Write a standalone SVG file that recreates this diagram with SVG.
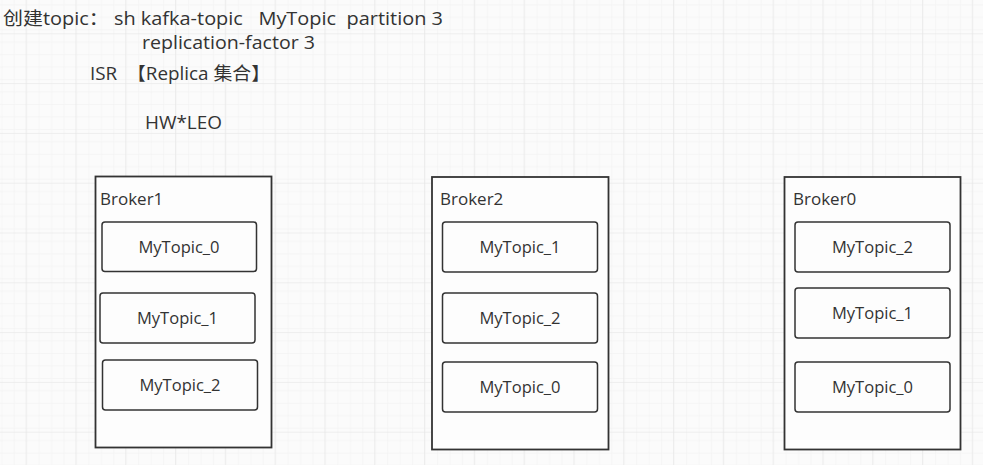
<svg xmlns="http://www.w3.org/2000/svg" width="983" height="465" viewBox="0 0 983 465">
<defs>
<pattern id="minor" x="25.6" y="33.3" width="12.45" height="12.45" patternUnits="userSpaceOnUse">
<path d="M0 0H12.45M0 0V12.45" fill="none" stroke="#efefef" stroke-width="1"/>
</pattern>
<pattern id="major" x="25.6" y="33.3" width="49.8" height="49.8" patternUnits="userSpaceOnUse">
<rect width="49.8" height="49.8" fill="url(#minor)"/>
<path d="M0 0H49.8M0 0V49.8" fill="none" stroke="#e2e2e2" stroke-width="1"/>
</pattern>
</defs>
<style>
text{font-family:"Open Sans","Noto Sans CJK SC",sans-serif;fill:#333}
.t{font-size:18px}
.b{font-size:17px}
.p{font-size:16px;text-anchor:middle}
.broker{fill:#fdfdfd;stroke:#333;stroke-width:1.8}
.part{fill:#fdfdfd;stroke:#333;stroke-width:1.5}
</style>
<rect width="983" height="465" fill="#fbfbfb"/>
<rect width="983" height="465" fill="url(#major)"/>
<g id="notes">
<text class="t" x="3" y="25" textLength="440" lengthAdjust="spacingAndGlyphs" xml:space="preserve">创建topic： sh kafka-topic   MyTopic  partition 3</text>
<text class="t" x="142" y="49" textLength="173" lengthAdjust="spacingAndGlyphs">replication-factor 3</text>
<text class="t" x="90" y="80" textLength="180" lengthAdjust="spacingAndGlyphs" xml:space="preserve">ISR  【Replica 集合】</text>
<text class="t" x="145" y="129" textLength="77" lengthAdjust="spacingAndGlyphs">HW*LEO</text>
</g>
<g id="broker1">
<rect class="broker" x="95.5" y="176.5" width="176" height="271"/>
<text class="b" x="100" y="205">Broker1</text>
<g id="b1p0"><rect class="part" x="102" y="222" width="154.5" height="49.5" rx="3"/><text class="p" x="179" y="253" textLength="81" lengthAdjust="spacingAndGlyphs">MyTopic_0</text></g>
<g id="b1p1"><rect class="part" x="100" y="293" width="155" height="50" rx="3"/><text class="p" x="177.5" y="324" textLength="81" lengthAdjust="spacingAndGlyphs">MyTopic_1</text></g>
<g id="b1p2"><rect class="part" x="102.5" y="360" width="155" height="50" rx="3"/><text class="p" x="180" y="391" textLength="81" lengthAdjust="spacingAndGlyphs">MyTopic_2</text></g>
</g>
<g id="broker2">
<rect class="broker" x="432" y="177" width="176.5" height="272.5"/>
<text class="b" x="440" y="205">Broker2</text>
<g id="b2p1"><rect class="part" x="442.5" y="222" width="155" height="50" rx="3"/><text class="p" x="520" y="253" textLength="81" lengthAdjust="spacingAndGlyphs">MyTopic_1</text></g>
<g id="b2p2"><rect class="part" x="442.5" y="293" width="155" height="50" rx="3"/><text class="p" x="520" y="324" textLength="81" lengthAdjust="spacingAndGlyphs">MyTopic_2</text></g>
<g id="b2p0"><rect class="part" x="442.5" y="362" width="155" height="50" rx="3"/><text class="p" x="520" y="393" textLength="81" lengthAdjust="spacingAndGlyphs">MyTopic_0</text></g>
</g>
<g id="broker0">
<rect class="broker" x="784.5" y="177" width="176" height="272.5"/>
<text class="b" x="793" y="205">Broker0</text>
<g id="b0p2"><rect class="part" x="795" y="222" width="155" height="50" rx="3"/><text class="p" x="872.5" y="253" textLength="81" lengthAdjust="spacingAndGlyphs">MyTopic_2</text></g>
<g id="b0p1"><rect class="part" x="795" y="288" width="155" height="50" rx="3"/><text class="p" x="872.5" y="319" textLength="81" lengthAdjust="spacingAndGlyphs">MyTopic_1</text></g>
<g id="b0p0"><rect class="part" x="795" y="362" width="155" height="50" rx="3"/><text class="p" x="872.5" y="393" textLength="81" lengthAdjust="spacingAndGlyphs">MyTopic_0</text></g>
</g>
<g id="connectors"/>
</svg>
